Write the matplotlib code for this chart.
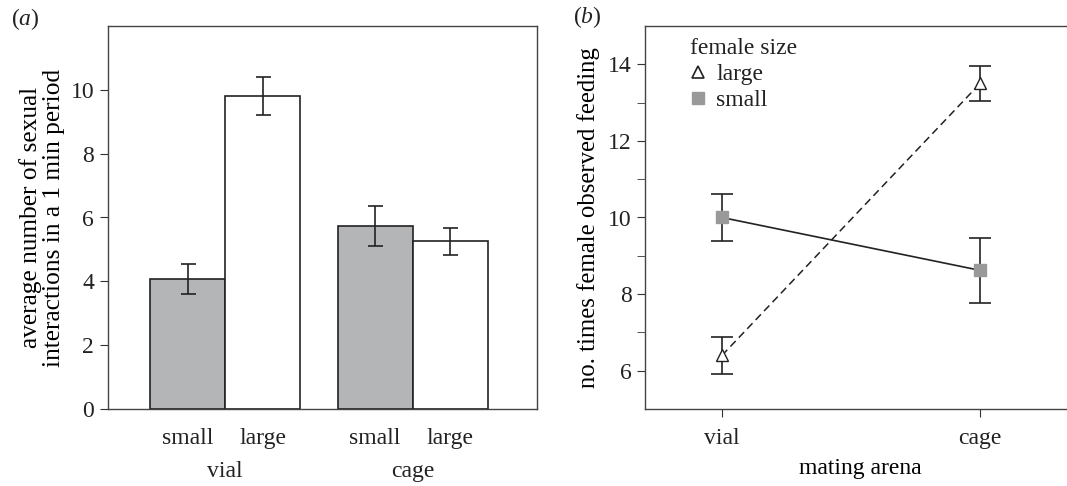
import numpy as np
import matplotlib
matplotlib.use('Agg')
import matplotlib.pyplot as plt
from matplotlib.lines import Line2D
import matplotlib.transforms as mtransforms

plt.rcParams['font.family'] = ['Liberation Serif', 'DejaVu Serif']
plt.rcParams['font.size'] = 17
plt.rcParams['mathtext.fontset'] = 'custom'
plt.rcParams['mathtext.rm'] = 'Liberation Serif'
plt.rcParams['mathtext.it'] = 'Liberation Serif:italic'
plt.rcParams['axes.linewidth'] = 1.0
plt.rcParams['axes.edgecolor'] = '#444444'
plt.rcParams['text.color'] = '#222222'
plt.rcParams['xtick.color'] = '#333333'
plt.rcParams['ytick.color'] = '#333333'
plt.rcParams['xtick.labelcolor'] = '#222222'
plt.rcParams['ytick.labelcolor'] = '#222222'

# panel a data
groups = ['vial', 'cage']
sizes = ['small', 'large']
interactions = [[4.07, 9.80], [5.73, 5.25]]
interactions_se = [[0.47, 0.59], [0.62, 0.41]]

# panel b data
arenas = ['vial', 'cage']
feed_large = [6.40, 13.50]
feed_large_se = [0.49, 0.45]
feed_small = [10.00, 8.62]
feed_small_se = [0.61, 0.84]

fig = plt.figure(figsize=(10.67, 4.86), dpi=100)
axa = fig.add_axes([108/1067, 1-409/486, (537-108)/1067, (409-26)/486])
axb = fig.add_axes([645/1067, 1-409/486, (1075-645)/1067, (409-26)/486])

# ---- panel a
bw = 1.0
group_centers = [1.0, 3.5]
fills = ['#b4b5b7', 'white']
xt, xl = [], []
for g, gc in enumerate(group_centers):
    for s in range(2):
        x = gc - bw/2 + s*bw
        axa.bar(x, interactions[g][s], width=bw, color=fills[s], edgecolor='#222222', linewidth=1.2)
        axa.errorbar(x, interactions[g][s], yerr=interactions_se[g][s], fmt='none',
                     ecolor='#222222', elinewidth=1.2, capsize=5.4, capthick=1.2)
        xt.append(x)
        xl.append(sizes[s])
axa.set_xlim(-0.56, 5.16)
axa.set_ylim(0, 12)
axa.set_yticks([0, 2, 4, 6, 8, 10])
axa.set_xticks(xt)
axa.set_xticklabels(xl)
axa.tick_params(axis='x', length=0, pad=14)
axa.tick_params(axis='y', length=6, direction='out', pad=4)
trans = mtransforms.blended_transform_factory(axa.transData, fig.transFigure)
for g, gc in enumerate(group_centers):
    axa.text(gc, 1-471/486, groups[g], transform=trans, ha='center', va='center')
axa.set_ylabel('average number of sexual\ninteractions in a 1 min period', labelpad=4,
               linespacing=1.05, fontsize=18.3)
fig.text(11/1067, 1-19/486, r'$(\mathit{a})$', ha='left', va='center', fontsize=17)
fig.text(573/1067, 1-17/486, r'$(\mathit{b})$', ha='left', va='center', fontsize=17)

# ---- panel b
xs = [1, 2]
axb.errorbar(xs, feed_small, yerr=feed_small_se, color='#222222', linewidth=1.2,
             marker='s', markersize=9, markerfacecolor='#999999', markeredgecolor='#999999',
             ecolor='#222222', elinewidth=1.2, capsize=7.8, capthick=1.2, zorder=3)
axb.errorbar(xs, feed_large, yerr=feed_large_se, color='#222222', linewidth=1.1, linestyle=(0, (5, 3)),
             marker='^', markersize=9, markerfacecolor='white', markeredgecolor='#222222',
             ecolor='#222222', elinewidth=1.2, capsize=7.8, capthick=1.2, zorder=3)
axb.set_xlim(0.7016, 2.368)
axb.set_ylim(5, 15)
axb.set_xticks(xs)
axb.set_xticklabels(arenas)
axb.set_yticks([6, 8, 10, 12, 14])
axb.set_yticks(np.arange(7, 15, 2), minor=True)
axb.tick_params(axis='both', which='both', length=6, direction='out')
axb.tick_params(axis='x', pad=8)
axb.set_xlabel('mating arena', labelpad=6)
axb.set_ylabel('no. times female observed feeding', labelpad=6, fontsize=17.8)

handles = [Line2D([], [], linestyle='none', marker='^', markersize=8, markerfacecolor='white',
                  markeredgecolor='#222222', markeredgewidth=1.2),
           Line2D([], [], linestyle='none', marker='s', markersize=8, markerfacecolor='#999999',
                  markeredgecolor='#999999')]
leg = axb.legend(handles, ['large', 'small'], title='female size', loc='upper left',
                 bbox_to_anchor=(690/1067, 1-38/486), bbox_transform=fig.transFigure,
                 frameon=False, alignment='left', handlelength=0.7, handletextpad=0.4,
                 labelspacing=0.2, borderpad=0, borderaxespad=0, title_fontsize=17)

fig.savefig('out.png', dpi=100)
